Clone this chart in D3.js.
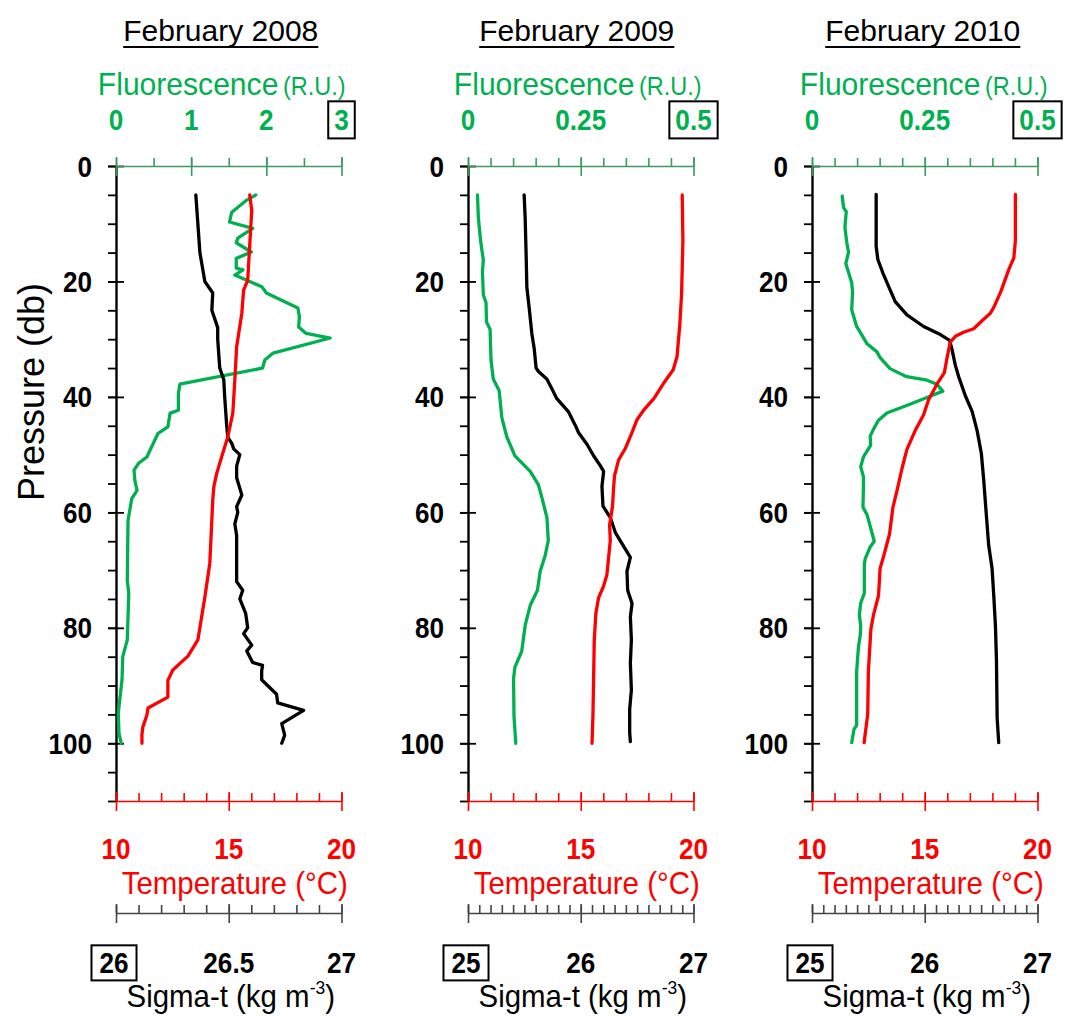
<!DOCTYPE html>
<html>
<head>
<meta charset="utf-8">
<script src="https://cdn.jsdelivr.net/npm/d3@7"></script>
<style>
  body { margin: 0; background: #fff; }
  svg { display: block; }
  text { font-family: "Liberation Sans", Arial, sans-serif; }
</style>
</head>
<body>
<svg id="chart" width="1068" height="1016"></svg>
<script>
// ---- Panel titles and axis definitions ----
const panelTitles = ["February 2008", "February 2009", "February 2010"];

const fluorDomains = [[0, 3], [0, 0.5], [0, 0.5]];
const fluorTicks = [[0, 1, 2, 3], [0, 0.25, 0.5], [0, 0.25, 0.5]];
const fluorTickLabels = [["0", "1", "2", "3"], ["0", "0.25", "0.5"], ["0", "0.25", "0.5"]];
const fluorMinorSteps = [0.5, 0.05, 0.05];

const tempDomain = [10, 20];
const tempTicks = [10, 15, 20];
const tempTickLabels = ["10", "15", "20"];

const sigmaDomains = [[26, 27], [25, 27], [25, 27]];
const sigmaTicks = [[26, 26.5, 27], [25, 26, 27], [25, 26, 27]];
const sigmaTickLabels = [["26", "26.5", "27"], ["25", "26", "27"], ["25", "26", "27"]];

const pressureDomain = [0, 110];
const pressureTicks = [0, 20, 40, 60, 80, 100];

// ---- Profiles: [pressure (db), value] ----
// February 2008
const fluor2008 = [[5,1.86],[5.9,1.74],[8,1.54],[9.7,1.51],[10.8,1.82],[12.5,1.62],[13.3,1.60],[14.9,1.80],
  [16,1.60],[17.7,1.60],[18,1.69],[18.9,1.58],[19.8,1.74],[20.9,1.94],[22,2.0],[24.6,2.42],[26.1,2.44],
  [27.9,2.43],[29,2.53],[29.8,2.85],[32.4,2.09],[33.6,1.98],[35,1.95],[37.8,0.85],[39.4,0.83],[42.3,0.83],
  [42.8,0.72],[45.2,0.69],[46.3,0.56],[50.4,0.41],[51.5,0.30],[52.7,0.24],[54.4,0.25],[56.2,0.28],[57.6,0.21],
  [61.4,0.16],[71.8,0.15],[74,0.17],[82.1,0.15],[85,0.09],[89,0.08],[94.8,0.03],[98.3,0.04],[100,0.07]];
const sigma2008 = [[5,26.354],[10,26.363],[15,26.372],[20,26.394],[22,26.429],[25,26.425],[28,26.451],
  [30,26.451],[35,26.460],[37,26.478],[40,26.482],[45,26.491],[47,26.496],[48,26.513],[49,26.522],[50,26.549],
  [52,26.535],[54,26.535],[57,26.558],[59,26.535],[60,26.540],[62,26.527],[64,26.535],[72,26.535],[73.5,26.562],
  [75,26.549],[77.5,26.575],[80,26.584],[81,26.566],[83,26.602],[84,26.580],[86,26.606],[86.5,26.650],
  [87.5,26.646],[89,26.646],[91.5,26.712],[93,26.717],[94.3,26.832],[96.6,26.735],[98.6,26.748],[100,26.735]];
const temp2008 = [[5,15.93],[7.7,16.02],[19.8,15.84],[21.5,15.66],[25.5,15.58],[31.3,15.35],[37,15.27],
  [42.8,15.18],[46.9,14.96],[49.8,14.73],[53.2,14.47],[55.5,14.34],[57.9,14.29],[61.3,14.25],[68.8,14.16],
  [74.7,13.94],[82.1,13.63],[84.9,13.19],[87.3,12.52],[89.1,12.30],[92,12.30],[93.9,11.42],[95.1,11.37],
  [97.2,11.19],[98.5,11.15],[100,11.15]];

// February 2009
const fluor2009 = [[5,0.021],[9,0.023],[13,0.028],[16.3,0.034],[18.3,0.032],[22.3,0.034],[23.7,0.040],
  [27,0.041],[28.3,0.049],[33.6,0.051],[36.9,0.056],[38.9,0.069],[43.6,0.075],[46.9,0.086],[50.2,0.104],
  [52.9,0.138],[55.2,0.156],[57.5,0.164],[60.9,0.175],[64.9,0.178],[67.5,0.171],[70.2,0.160],[73.5,0.154],
  [76.1,0.138],[79.5,0.127],[84.1,0.119],[86.8,0.104],[88.8,0.101],[95.4,0.102],[100,0.106]];
const sigma2009 = [[5,25.498],[9,25.507],[15.7,25.516],[21,25.522],[25,25.545],[29,25.566],[31.6,25.587],
  [35,25.604],[35.6,25.625],[36.9,25.699],[38.6,25.744],[40.3,25.788],[42.6,25.892],[44.9,25.951],
  [46.2,25.981],[48.2,26.055],[50.2,26.114],[51.9,26.173],[52.9,26.203],[55.5,26.188],[58.9,26.197],
  [60.9,26.262],[63.5,26.307],[67.8,26.440],[70.2,26.410],[73.5,26.416],[75.8,26.455],[78.1,26.440],
  [82.1,26.449],[86.1,26.440],[90.8,26.449],[94.1,26.434],[98.1,26.434],[99.7,26.440]];
const temp2009 = [[5,19.50],[13,19.53],[22.3,19.47],[27.6,19.39],[33,19.27],[35.3,19.10],[37.6,18.68],
  [40.3,18.24],[42.3,17.79],[43.9,17.50],[46.2,17.27],[48.9,16.98],[50.9,16.68],[53.6,16.50],[55.5,16.46],
  [58.9,16.41],[62.2,16.28],[64.9,16.31],[70.8,16.16],[72.8,16.01],[74.8,15.79],[77.5,15.67],[82.1,15.60],
  [88.8,15.57],[95.4,15.54],[100,15.50]];

// February 2010
const fluor2010 = [[5.2,0.067],[7.2,0.070],[7.9,0.076],[10.6,0.073],[13.2,0.077],[14.9,0.081],[16.9,0.075],
  [19.2,0.084],[20.2,0.088],[21.9,0.090],[24.9,0.088],[27.8,0.099],[29.2,0.110],[30.8,0.122],[32.2,0.144],
  [33.2,0.151],[35.1,0.173],[36.5,0.210],[37.1,0.255],[37.8,0.277],[39,0.290],[40.1,0.255],[41.5,0.210],
  [42.8,0.166],[44.1,0.147],[45.8,0.135],[46.8,0.129],[48.4,0.130],[50.4,0.114],[52.1,0.108],[53.8,0.114],
  [55.7,0.114],[59.1,0.113],[60.4,0.122],[62.4,0.129],[65,0.138],[66,0.129],[68,0.118],[69,0.116],[74,0.116],
  [75.7,0.108],[77.7,0.105],[79.7,0.108],[81.3,0.107],[83.3,0.103],[87.6,0.099],[96.9,0.099],[97.6,0.093],
  [99.9,0.088]];
const sigma2010 = [[4.9,25.569],[13.9,25.569],[16.2,25.584],[18.5,25.628],[21.2,25.687],[23.5,25.738],
  [25.8,25.842],[27.8,25.990],[29.2,26.138],[30.2,26.221],[31.8,26.242],[34.5,26.271],[36.5,26.301],
  [39.8,26.360],[42.5,26.420],[45.8,26.464],[49.8,26.502],[54.4,26.523],[59.1,26.541],[65.7,26.567],
  [69.7,26.597],[74.4,26.612],[79.7,26.627],[85.6,26.636],[95.6,26.642],[99.9,26.656]];
const temp2010 = [[4.9,19.02],[12.9,19.02],[15.9,18.95],[17.9,18.73],[21.9,18.36],[24.5,18.06],[25.5,17.91],
  [26.8,17.54],[28.2,17.17],[28.8,16.72],[29.5,16.36],[30.5,16.13],[33.2,15.99],[35.8,15.87],[37.8,15.54],
  [40.5,15.17],[43.1,14.95],[45.8,14.58],[49.1,14.21],[52.4,13.99],[56.4,13.76],[59.1,13.59],[63.7,13.44],
  [67.7,13.17],[69.7,13.02],[74.4,12.95],[77.7,12.73],[80.3,12.61],[87.6,12.50],[95,12.47],[99.9,12.31]];

const fluorSeries = [fluor2008, fluor2009, fluor2010];
const sigmaSeries = [sigma2008, sigma2009, sigma2010];
const tempSeries = [temp2008, temp2009, temp2010];

// ---- Layout ----
const panelLeft = [116, 468, 812];
const panelWidth = 225.5;
const titleShift = [-8, -4, -2];
const plotTop = 166, plotBottom = 801, sigmaAxisY = 913;

const GREEN = "#00B050", AXIS_GREEN = "#3C9A60", RED = "#FF0000", SIGMA_GREY = "#444";
const TICK_FONT = 30, TICK_SQUEEZE = 0.87;

const svg = d3.select("#chart");
const y = d3.scaleLinear().domain(pressureDomain).range([plotTop, plotBottom]);

function steps(domain, step) {
  const n = Math.round((domain[1] - domain[0]) / step);
  return d3.range(n + 1).map(k => +(domain[0] + k * step).toFixed(6));
}

// Text placed at (x, y) and narrowed horizontally by sx around its anchor.
function label(parent, x, yPos, str, opts) {
  const o = Object.assign({ anchor: "middle", size: TICK_FONT, sx: TICK_SQUEEZE, weight: "bold", fill: "#000" }, opts);
  const wrap = parent.append("g");
  wrap.append("text")
    .attr("transform", `translate(${x},${yPos}) scale(${o.sx},1)`)
    .attr("text-anchor", o.anchor).attr("font-size", o.size)
    .attr("font-weight", o.weight).attr("fill", o.fill).text(str);
  return wrap;
}

// Horizontal axis: minor ticks point up, major ticks cross the line.
function hAxis(g, scale, yPos, major, minorStep, color) {
  const minor = steps(scale.domain(), minorStep);
  const a = g.append("g").attr("transform", `translate(0,${yPos})`)
    .call(d3.axisTop(scale).tickValues(minor).tickSize(8).tickSizeOuter(0).tickFormat(""));
  const b = g.append("g").attr("transform", `translate(0,${yPos})`)
    .call(d3.axisTop(scale).tickValues(major).tickSize(9).tickSizeOuter(0).tickFormat(""));
  b.select(".domain").remove();
  b.selectAll(".tick line").attr("y2", -9).attr("y1", 10);
  [a, b].forEach(s => s.selectAll("path, line").attr("stroke", color).attr("stroke-width", 1.6));
}

function boxAround(g, wrap, padX, padY) {
  const bb = wrap.node().getBBox();
  g.append("rect")
    .attr("x", bb.x - padX).attr("y", bb.y - padY)
    .attr("width", bb.width + 2 * padX).attr("height", bb.height + 2 * padY)
    .attr("fill", "none").attr("stroke", "#000").attr("stroke-width", 2);
}

panelTitles.forEach((title, i) => {
  const x0 = panelLeft[i], x1 = x0 + panelWidth;
  const cx = (x0 + x1) / 2;
  const g = svg.append("g");

  const xF = d3.scaleLinear().domain(fluorDomains[i]).range([x0, x1]);
  const xT = d3.scaleLinear().domain(tempDomain).range([x0, x1]);
  const xS = d3.scaleLinear().domain(sigmaDomains[i]).range([x0, x1]);

  // Title, underlined
  const t = g.append("text").attr("x", cx + titleShift[i]).attr("y", 41)
    .attr("text-anchor", "middle").attr("font-size", 30).attr("fill", "#000").text(title);
  const tb = t.node().getBBox();
  g.append("line").attr("x1", tb.x).attr("x2", tb.x + tb.width)
    .attr("y1", 47).attr("y2", 47).attr("stroke", "#000").attr("stroke-width", 2);

  // Fluorescence title
  const ft = g.append("text")
    .attr("transform", `translate(${cx + titleShift[i] + 1},95) scale(0.94,1)`)
    .attr("text-anchor", "middle").attr("fill", GREEN);
  ft.append("tspan").attr("font-size", 32).text("Fluorescence");
  ft.append("tspan").attr("font-size", 25).attr("dx", 5).text("(R.U.)");

  // Pressure axis
  const ya = g.append("g").attr("transform", `translate(${x0},0)`)
    .call(d3.axisLeft(y).tickValues(steps(pressureDomain, 5)).tickSize(8).tickSizeOuter(0).tickFormat(""));
  const yb = g.append("g").attr("transform", `translate(${x0},0)`)
    .call(d3.axisLeft(y).tickValues(pressureTicks).tickSize(8).tickSizeOuter(0).tickFormat(""));
  yb.select(".domain").remove();
  yb.selectAll(".tick line").attr("x1", 8);
  ya.select(".domain").attr("stroke-width", 2.4);
  [ya, yb].forEach(s => s.selectAll("line").attr("stroke", "#000").attr("stroke-width", 1.8));

  pressureTicks.forEach(p => label(g, x0 - 24, y(p) + 10.5, String(p), { anchor: "end" }));

  // Fluorescence axis (top)
  hAxis(g, xF, plotTop, fluorTicks[i], fluorMinorSteps[i], AXIS_GREEN);
  let last;
  fluorTicks[i].forEach((v, k) => {
    last = label(g, xF(v), 130, fluorTickLabels[i][k], { fill: GREEN });
  });
  boxAround(g, last, 6, 2);

  // Temperature axis
  hAxis(g, xT, plotBottom, tempTicks, 1, RED);
  tempTicks.forEach((v, k) => label(g, xT(v), 859, tempTickLabels[k], { fill: RED }));
  label(g, cx + 6, 894, "Temperature (°C)", { size: 31, sx: 0.95, weight: "normal", fill: RED });

  // Sigma-t axis
  hAxis(g, xS, sigmaAxisY, sigmaTicks[i], 0.1, SIGMA_GREY);
  let first;
  sigmaTicks[i].forEach((v, k) => {
    const w = label(g, k === 0 ? xS(v) - 2 : xS(v), 973, sigmaTickLabels[i][k]);
    if (k === 0) first = w;
  });
  boxAround(g, first, 8, 1);
  const st = g.append("text")
    .attr("transform", `translate(${cx + 2},1007) scale(0.92,1)`)
    .attr("text-anchor", "middle").attr("font-size", 32).attr("fill", "#000");
  st.append("tspan").text("Sigma-t (kg m");
  st.append("tspan").attr("font-size", 19).attr("dy", -13).text("-3");
  st.append("tspan").attr("dy", 13).text(")");

  // Profiles
  const lineF = d3.line().x(d => xF(d[1])).y(d => y(d[0]));
  const lineS = d3.line().x(d => xS(d[1])).y(d => y(d[0]));
  const lineT = d3.line().x(d => xT(d[1])).y(d => y(d[0]));
  const prof = g.append("g").attr("fill", "none").attr("stroke-width", 3.3)
    .attr("stroke-linejoin", "round").attr("stroke-linecap", "round");
  prof.append("path").datum(fluorSeries[i]).attr("d", lineF).attr("stroke", GREEN);
  prof.append("path").datum(sigmaSeries[i]).attr("d", lineS).attr("stroke", "#000");
  prof.append("path").datum(tempSeries[i]).attr("d", lineT).attr("stroke", RED);
});

// Shared pressure label
svg.append("text")
  .attr("transform", "translate(44,392) rotate(-90)")
  .attr("text-anchor", "middle").attr("font-size", 36).attr("fill", "#000")
  .text("Pressure (db)");
</script>
</body>
</html>
